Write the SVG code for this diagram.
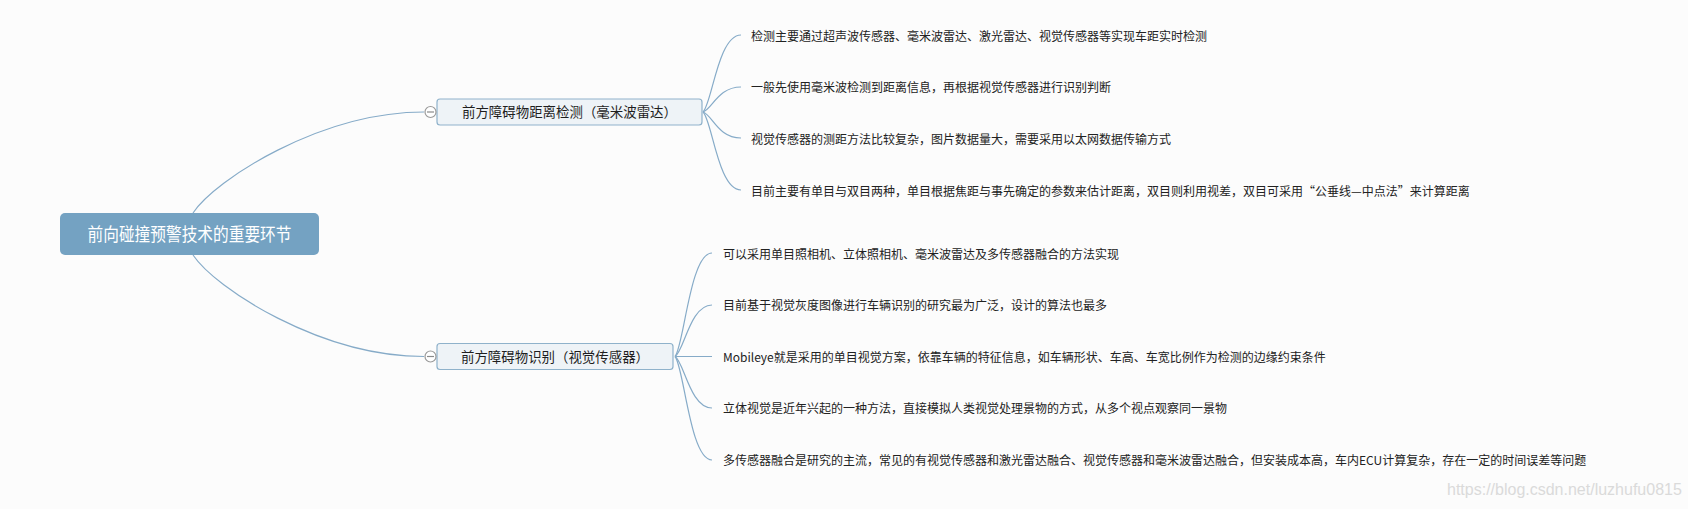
<svg xmlns="http://www.w3.org/2000/svg" width="1688" height="509" viewBox="0 0 1688 509">
<style>
.bg{fill:#fcfcfc}
.conn path{fill:none;stroke:#86abc8;stroke-width:1.2}
.root rect{fill:#74a2c2}
.root text{fill:#ffffff;font-family:"Noto Sans CJK SC",sans-serif;font-size:18.5px;text-anchor:middle}
.topic rect{fill:#eef3f7;stroke:#8fb2cb;stroke-width:1.2}
.topic text{fill:#1e1e1e;font-family:"Noto Sans CJK SC",sans-serif;font-size:13.5px;text-anchor:middle}
.fold circle{fill:#ffffff;stroke:#9a9a9a;stroke-width:1.2}
.fold line{stroke:#8a8a8a;stroke-width:1.2}
.leaf text{fill:#222222;font-family:"Noto Sans CJK SC",sans-serif;font-size:12px}
.wm{fill:#dadada;font-family:"Liberation Sans",Arial,sans-serif;font-size:16px}
</style>
<rect class="bg" x="0" y="0" width="1688" height="509"/>
<g id="connectors" class="conn">
<path d="M193,213 C215,180 320,112 424,112"/>
<path d="M193,255 C215,288 320,356.5 424,356.5"/>
<path d="M703,112 C712,104 718,35 741,35"/>
<path d="M703,112 C712,109.5 718,87 741,87"/>
<path d="M703,112 C712,114.6 718,138 741,138"/>
<path d="M703,112 C712,119.8 718,190 741,190"/>
<path d="M675,356.5 C684,346 690,253 712,253"/>
<path d="M675,356.5 C684,351.4 690,305 712,305"/>
<path d="M675,356.5 L712,356.5"/>
<path d="M675,356.5 C684,361.6 690,408 712,408"/>
<path d="M675,356.5 C684,366.8 690,460 712,460"/>
</g>
<g id="root" class="root">
<rect x="60" y="213" width="259" height="42" rx="5"/>
<text x="189.5" y="240.5" textLength="204" lengthAdjust="spacingAndGlyphs">前向碰撞预警技术的重要环节</text>
</g>
<g id="topic1" class="topic">
<rect x="437" y="99" width="265" height="26" rx="3"/>
<text x="569.5" y="117" textLength="215" lengthAdjust="spacingAndGlyphs">前方障碍物距离检测（毫米波雷达）</text>
<g class="fold"><circle cx="430.5" cy="112" r="5.5"/><line x1="427" y1="112" x2="434" y2="112"/></g>
</g>
<g id="topic2" class="topic">
<rect x="437" y="343.5" width="236" height="26" rx="3"/>
<text x="555" y="361.5" textLength="188" lengthAdjust="spacingAndGlyphs">前方障碍物识别（视觉传感器）</text>
<g class="fold"><circle cx="430.5" cy="356.5" r="5.5"/><line x1="427" y1="356.5" x2="434" y2="356.5"/></g>
</g>
<g id="leaf1-1" class="leaf"><text x="751" y="40.5">检测主要通过超声波传感器、毫米波雷达、激光雷达、视觉传感器等实现车距实时检测</text></g>
<g id="leaf1-2" class="leaf"><text x="751" y="92">一般先使用毫米波检测到距离信息，再根据视觉传感器进行识别判断</text></g>
<g id="leaf1-3" class="leaf"><text x="751" y="143.5">视觉传感器的测距方法比较复杂，图片数据量大，需要采用以太网数据传输方式</text></g>
<g id="leaf1-4" class="leaf"><text x="751" y="195.5">目前主要有单目与双目两种，单目根据焦距与事先确定的参数来估计距离，双目则利用视差，双目可采用“公垂线—中点法”来计算距离</text></g>
<g id="leaf2-1" class="leaf"><text x="723" y="258.5">可以采用单目照相机、立体照相机、毫米波雷达及多传感器融合的方法实现</text></g>
<g id="leaf2-2" class="leaf"><text x="723" y="310">目前基于视觉灰度图像进行车辆识别的研究最为广泛，设计的算法也最多</text></g>
<g id="leaf2-3" class="leaf"><text x="723" y="361.5">Mobileye就是采用的单目视觉方案，依靠车辆的特征信息，如车辆形状、车高、车宽比例作为检测的边缘约束条件</text></g>
<g id="leaf2-4" class="leaf"><text x="723" y="413">立体视觉是近年兴起的一种方法，直接模拟人类视觉处理景物的方式，从多个视点观察同一景物</text></g>
<g id="leaf2-5" class="leaf"><text x="723" y="465">多传感器融合是研究的主流，常见的有视觉传感器和激光雷达融合、视觉传感器和毫米波雷达融合，但安装成本高，车内ECU计算复杂，存在一定的时间误差等问题</text></g>
<text class="wm" x="1447" y="495">https://blog.csdn.net/luzhufu0815</text>
</svg>
